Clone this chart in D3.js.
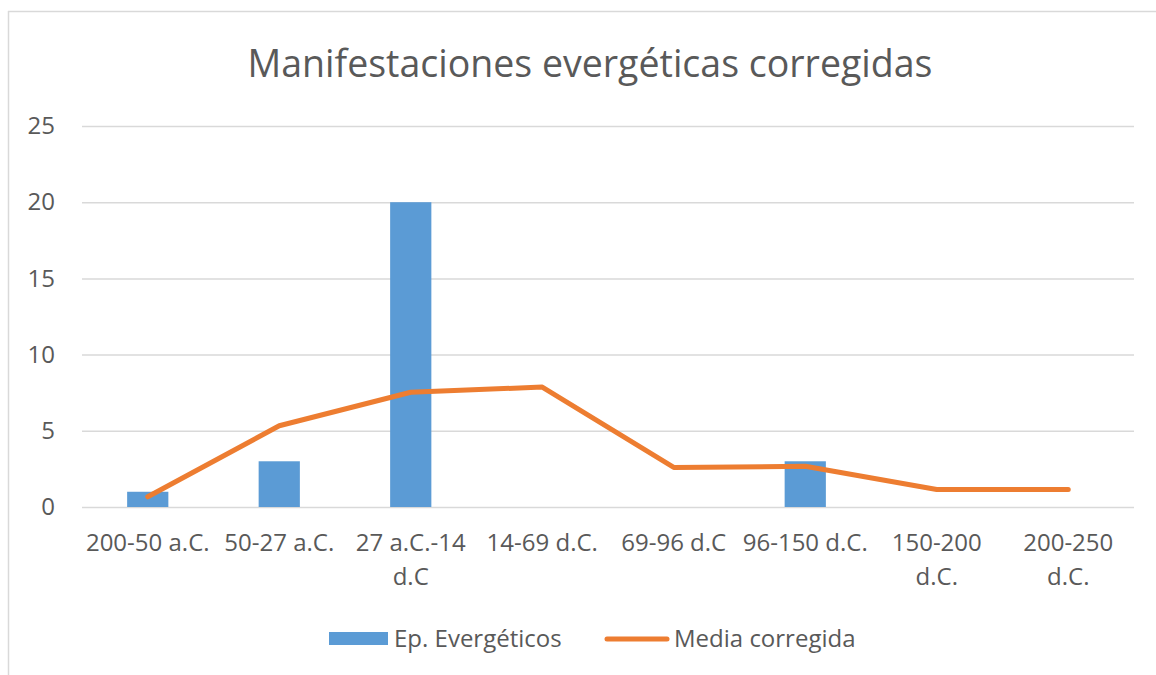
<!DOCTYPE html>
<html>
<head>
<meta charset="utf-8">
<script src="https://cdn.jsdelivr.net/npm/d3@7"></script>
<style>
    body { margin: 0; background: #fff; }
    text { font-family: "Open Sans", sans-serif; fill: #595959; }
</style>
</head>
<body>
<div id="chart"></div>
<script>
var categories = ["200-50 a.C.", "50-27 a.C.", "27 a.C.-14 d.C", "14-69 d.C.", "69-96 d.C", "96-150 d.C.", "150-200 d.C.", "200-250 d.C."];
var episodios = [1, 3, 20, 0, 0, 3, 0, 0];
var mediaCorregida = [0.67, 5.33, 7.53, 7.87, 2.6, 2.67, 1.15, 1.15];
var yTicks = [0, 5, 10, 15, 20, 25];
var seriesNames = ["Ep. Evergéticos", "Media corregida"];

var width = 1156, height = 675;
var margin = {top: 126, right: 22, bottom: 168, left: 82};
var blue = "#5B9BD5", orange = "#ED7D31", grid = "#D9D9D9";

var svg = d3.select("#chart").append("svg")
    .attr("width", width)
    .attr("height", height);

// chart area border (only top and left visible in the crop)
svg.append("line").attr("x1", 8).attr("x2", width).attr("y1", 11.5).attr("y2", 11.5)
    .attr("stroke", grid).attr("stroke-width", 1.5);
svg.append("line").attr("x1", 8.5).attr("x2", 8.5).attr("y1", 11).attr("y2", height)
    .attr("stroke", grid).attr("stroke-width", 1.5);

svg.append("text")
    .attr("x", 590)
    .attr("y", 77)
    .attr("text-anchor", "middle")
    .style("font-size", "37.5px")
    .text("Manifestaciones evergéticas corregidas");

var x = d3.scaleBand()
    .domain(categories)
    .range([margin.left, width - margin.right])
    .padding(0);

var y = d3.scaleLinear()
    .domain([0, 25])
    .range([height - margin.bottom, margin.top]);

// gridlines + y labels
var yAxis = svg.append("g")
    .attr("transform", "translate(" + margin.left + ",0)")
    .call(d3.axisLeft(y).tickValues(yTicks).tickSize(-(width - margin.left - margin.right)).tickPadding(27));
yAxis.select(".domain").remove();
yAxis.selectAll(".tick line").attr("stroke", grid).attr("stroke-width", 1.5);
yAxis.selectAll(".tick text")
    .style("font-size", "24px")
    .style("font-family", "'Open Sans', sans-serif")
    .attr("fill", "#595959");

// bars, gap width 219%
var barW = x.bandwidth() / 3.19;
svg.append("g")
    .selectAll("rect")
    .data(episodios)
    .join("rect")
    .attr("x", function (d, i) { return x(categories[i]) + (x.bandwidth() - barW) / 2; })
    .attr("y", function (d) { return y(d); })
    .attr("width", barW)
    .attr("height", function (d) { return y(0) - y(d); })
    .attr("fill", blue);

var line = d3.line()
    .x(function (d, i) { return x(categories[i]) + x.bandwidth() / 2; })
    .y(function (d) { return y(d); });

svg.append("path")
    .datum(mediaCorregida)
    .attr("d", line)
    .attr("fill", "none")
    .attr("stroke", orange)
    .attr("stroke-width", 5)
    .attr("stroke-linejoin", "round")
    .attr("stroke-linecap", "round");

// x labels, wrapped to band width
var xAxis = svg.append("g")
    .attr("transform", "translate(0," + y(0) + ")");

var labels = xAxis.selectAll("text")
    .data(categories)
    .join("text")
    .attr("x", function (d) { return x(d) + x.bandwidth() / 2; })
    .attr("y", 44)
    .attr("text-anchor", "middle")
    .style("font-size", "24px");

labels.each(function (d) {
    var el = d3.select(this);
    var words = d.split(" ");
    var lines = [];
    var cur = "";
    var probe = el.append("tspan");
    words.forEach(function (w) {
        var test = cur ? cur + " " + w : w;
        probe.text(test);
        if (cur && probe.node().getComputedTextLength() > x.bandwidth()) {
            lines.push(cur);
            cur = w;
        } else {
            cur = test;
        }
    });
    lines.push(cur);
    probe.remove();
    lines.forEach(function (l, i) {
        el.append("tspan")
            .attr("x", x(d) + x.bandwidth() / 2)
            .attr("dy", i === 0 ? 0 : 34)
            .text(l);
    });
});

// legend
var legend = svg.append("g").attr("transform", "translate(0,639)");
legend.append("rect")
    .attr("x", 329).attr("y", -7)
    .attr("width", 59).attr("height", 13)
    .attr("fill", blue);
legend.append("text")
    .attr("x", 394).attr("y", 8)
    .style("font-size", "24px")
    .text(seriesNames[0]);
legend.append("line")
    .attr("x1", 607).attr("x2", 667)
    .attr("y1", 0).attr("y2", 0)
    .attr("stroke", orange).attr("stroke-width", 5)
    .attr("stroke-linecap", "round");
legend.append("text")
    .attr("x", 674).attr("y", 8)
    .style("font-size", "24px")
    .text(seriesNames[1]);
</script>
</body>
</html>
